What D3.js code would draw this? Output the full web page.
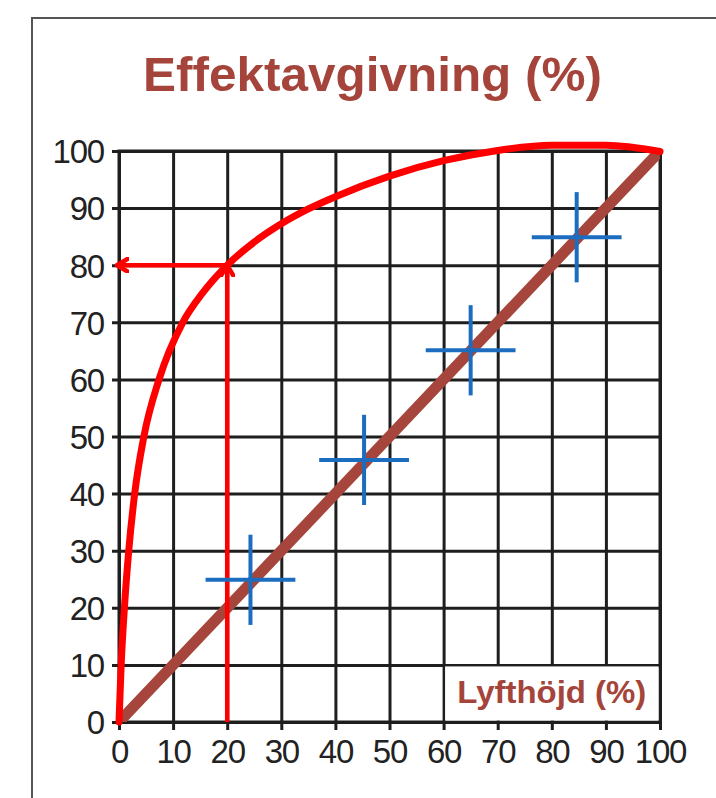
<!DOCTYPE html>
<html>
<head>
<meta charset="utf-8">
<script src="https://cdn.jsdelivr.net/npm/d3@7"></script>
<style>
  html, body { margin: 0; padding: 0; background: #fff; }
  svg { display: block; font-family: "Liberation Sans", Arial, Helvetica, sans-serif; }
</style>
</head>
<body>
<div id="chart"></div>
<script>
// Data
const title = 'Effektavgivning (%)';
const xLabel = 'Lyfthöjd (%)';
const tickValues = [0, 10, 20, 30, 40, 50, 60, 70, 80, 90, 100];
const diagonal = [[0, 0], [100, 100]];
const curveX = [0, 0.4, 1.0, 1.8, 2.9, 4.6, 7.4, 11.8, 15.5, 20, 25, 30, 35, 40, 50, 60, 70, 80, 90, 100];
const curveY = [0, 10, 20, 30, 40, 50, 60, 70, 75.2, 80, 84.05, 87.25, 89.85, 92, 95.6, 98.3, 100.1, 101, 101, 99.9];
const readX = 20, readY = 80;
const crossX = [24.3, 45.3, 65.0, 84.6];
const crossY = [24.9, 45.9, 65.1, 84.9];
const crossHalfX = 8.3, crossHalfY = 7.9;

const COLORS = { grid: '#1e1e1e', title: '#a5443b', brown: '#a5453b', red: '#ff0000', blue: '#1c6dbf', text: '#222' };

const width = 716, height = 798;
const M = { left: 119, right: 660, top: 151, bottom: 722 };
const iw = M.right - M.left, ih = M.bottom - M.top;

const svg = d3.select('#chart').append('svg')
    .attr('width', width).attr('height', height)
    .attr('viewBox', `0 0 ${width} ${height}`);

// Outer frame (cropped at right/bottom)
svg.append('path')
    .attr('d', `M32,${height} L32,18 L${width},18`)
    .attr('fill', 'none').attr('stroke', '#555').attr('stroke-width', 2);

svg.append('text')
    .attr('x', 372.5).attr('y', 91)
    .attr('text-anchor', 'middle')
    .attr('font-size', 48).attr('font-weight', 'bold')
    .attr('fill', COLORS.title)
    .attr('textLength', 459).attr('lengthAdjust', 'spacingAndGlyphs')
    .text(title);

const defs = svg.append('defs');
defs.append('clipPath').attr('id', 'plot-clip')
    .append('rect').attr('width', iw).attr('height', ih);
defs.append('marker')
    .attr('id', 'chev').attr('viewBox', '-12 -8 14 16')
    .attr('refX', 0).attr('refY', 0)
    .attr('markerWidth', 14).attr('markerHeight', 16)
    .attr('markerUnits', 'userSpaceOnUse')
    .attr('orient', 'auto')
    .append('path')
    .attr('d', 'M-11,-6.5 L0,0 L-11,6.5')
    .attr('fill', 'none').attr('stroke', COLORS.red).attr('stroke-width', 4.5)
    .attr('stroke-linecap', 'round').attr('stroke-linejoin', 'round');

const g = svg.append('g').attr('transform', `translate(${M.left},${M.top})`);

const x = d3.scaleLinear().domain([0, 100]).range([0, iw]);
const y = d3.scaleLinear().domain([0, 100]).range([ih, 0]);

const styleAxis = (sel) => {
    sel.select('.domain').remove();
    sel.selectAll('line').attr('stroke', COLORS.grid).attr('stroke-width', 3);
    sel.selectAll('text')
        .attr('fill', COLORS.text)
        .attr('font-size', 33)
        .attr('letter-spacing', -1.2)
        .attr('font-family', '"Liberation Sans", Arial, sans-serif');
};

// Grid + ticks
g.append('g')
    .call(d3.axisLeft(y).tickValues(tickValues).tickSize(-iw).tickPadding(15))
    .call(styleAxis)
    .call((sel) => sel.selectAll('line').attr('x1', -7))
    .call((sel) => sel.selectAll('text').attr('dy', '0.36em'));

g.append('g').attr('transform', `translate(0,${ih})`)
    .call(d3.axisBottom(x).tickValues(tickValues).tickSize(-ih).tickPadding(18))
    .call(styleAxis)
    .call((sel) => sel.selectAll('line').attr('y1', 8));

g.append('rect')
    .attr('width', iw).attr('height', ih)
    .attr('fill', 'none').attr('stroke', COLORS.grid).attr('stroke-width', 3);

// Axis label box
g.append('rect')
    .attr('x', x(60) + 1.5).attr('y', y(10) + 1.5)
    .attr('width', x(100) - x(60) - 3).attr('height', y(0) - y(10) - 3)
    .attr('fill', '#fff');
g.append('text')
    .attr('x', x(80)).attr('y', y(3.3))
    .attr('text-anchor', 'middle')
    .attr('font-size', 31).attr('font-weight', 'bold')
    .attr('fill', COLORS.title)
    .attr('textLength', 189).attr('lengthAdjust', 'spacingAndGlyphs')
    .text(xLabel);

const plot = g.append('g').attr('clip-path', 'url(#plot-clip)');
const line = d3.line().x((d) => x(d[0])).y((d) => y(d[1]));

// Linear reference
plot.append('path')
    .attr('d', line(diagonal))
    .attr('fill', 'none').attr('stroke', COLORS.brown).attr('stroke-width', 11);

// Power curve
const curve = curveX.map((v, i) => [v, curveY[i]]);
g.append('path')
    .attr('d', d3.line().x((d) => x(d[0])).y((d) => y(d[1])).curve(d3.curveMonotoneX)(curve))
    .attr('fill', 'none').attr('stroke', COLORS.red).attr('stroke-width', 7)
    .attr('stroke-linecap', 'round');

// Reading lines
g.append('path')
    .attr('d', line([[readX, 0], [readX, readY]]))
    .attr('fill', 'none').attr('stroke', COLORS.red).attr('stroke-width', 4.5)
    .attr('marker-end', 'url(#chev)');
g.append('path')
    .attr('d', line([[readX, readY], [-0.4, readY]]))
    .attr('fill', 'none').attr('stroke', COLORS.red).attr('stroke-width', 4.5)
    .attr('marker-end', 'url(#chev)');

// Measurement crosses
const crosses = crossX.map((v, i) => ({ x: v, y: crossY[i] }));
const cg = g.selectAll('g.cross').data(crosses).enter().append('g').attr('class', 'cross');
cg.append('line')
    .attr('x1', (d) => x(d.x - crossHalfX)).attr('x2', (d) => x(d.x + crossHalfX))
    .attr('y1', (d) => y(d.y)).attr('y2', (d) => y(d.y));
cg.append('line')
    .attr('x1', (d) => x(d.x)).attr('x2', (d) => x(d.x))
    .attr('y1', (d) => y(d.y - crossHalfY)).attr('y2', (d) => y(d.y + crossHalfY));
cg.selectAll('line').attr('stroke', COLORS.blue).attr('stroke-width', 4);
</script>
</body>
</html>
